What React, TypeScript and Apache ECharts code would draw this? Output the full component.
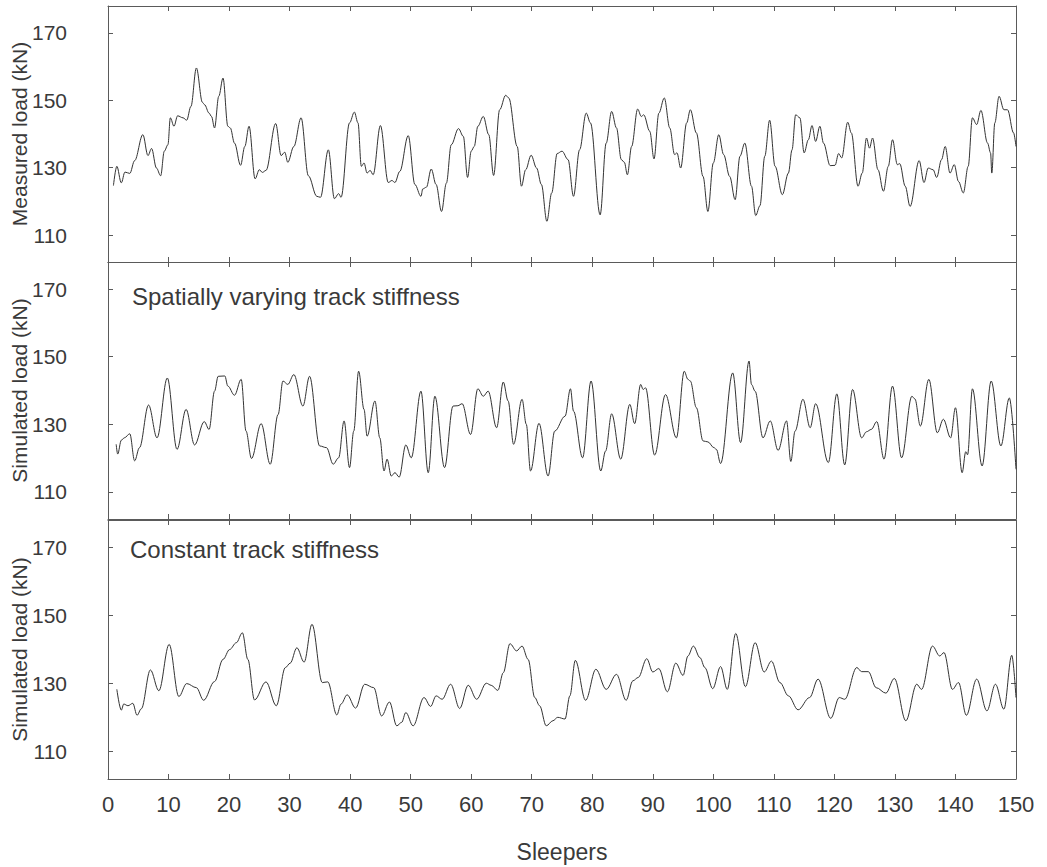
import React, { useEffect, useRef } from "react";
import * as echarts from "echarts";

const yTicks = [110, 130, 150, 170];
const yNames = ["Measured load (kN)", "Simulated load (kN)", "Simulated load (kN)"];
const panelNotes = ["", "Spatially varying track stiffness", "Constant track stiffness"];

const measured: [number, number][] = [
  [0.9,124.7],[1.46,130.4],[2.2,125.5],[2.8,128.7],[3.6,128.3],[4.4,132.1],[5.76,139.8],[6.6,133.6],[7.2,135.7],[8.0,129.9],[8.7,127.6],[9.3,134.9],[9.9,136.8],[10.3,144.8],[10.9,142.3],[11.5,145.4],[12.4,144.8],[13.0,144.1],[13.7,148.2],[14.6,159.6],[15.6,149.4],[15.95,148.7],[16.7,146.2],[17.1,145.2],[17.6,141.8],[18.3,151.2],[19.0,156.6],[19.8,142.3],[20.2,141.8],[20.9,137.3],[21.9,130.7],[22.6,136.3],[23.3,142.3],[24.3,126.7],[25.0,129.4],[25.5,128.6],[26.1,129.2],[27.7,143.1],[28.6,133.6],[29.2,134.6],[29.7,131.6],[30.7,136.3],[31.9,144.8],[33.1,127.6],[34.5,121.5],[35.1,121.2],[36.4,135.3],[37.4,120.8],[38.1,122.3],[38.5,121.2],[39.9,143.3],[40.7,146.5],[41.3,143.3],[41.85,130.4],[42.3,131.4],[42.8,128.4],[43.3,129.2],[43.8,127.9],[45.0,142.5],[46.3,125.6],[46.9,126.2],[47.4,125.6],[48.2,128.9],[49.6,139.5],[50.7,125.0],[51.7,121.5],[52.0,123.7],[52.6,124.2],[53.4,129.6],[54.2,125.0],[55.1,117.0],[55.9,125.4],[56.7,136.8],[57.9,141.6],[58.7,139.3],[59.4,127.1],[60.0,134.9],[60.5,136.3],[61.1,142.3],[62.0,145.2],[62.9,139.8],[63.7,127.7],[64.7,147.2],[65.7,151.5],[66.2,150.7],[67.6,136.3],[68.3,124.5],[69.0,129.4],[69.9,133.7],[70.8,129.9],[71.6,125.0],[72.5,114.1],[73.3,122.5],[74.2,134.2],[75.0,134.9],[76.0,132.4],[76.9,121.5],[77.9,135.3],[79.0,146.2],[79.7,143.3],[81.3,116.0],[82.3,137.3],[83.2,146.7],[84.0,141.8],[84.8,132.4],[85.3,131.6],[85.8,127.9],[86.5,136.3],[87.5,147.4],[88.1,145.2],[88.5,145.7],[89.5,140.8],[90.2,132.6],[91.0,146.2],[91.9,150.7],[92.8,141.8],[93.6,133.9],[94.0,134.4],[94.6,129.9],[95.6,143.3],[96.2,147.2],[97.2,140.3],[98.3,127.4],[99.1,117.0],[100.0,131.4],[100.9,139.8],[101.7,133.9],[102.7,127.4],[103.6,120.5],[104.4,133.4],[105.2,137.3],[106.3,124.5],[107.0,115.8],[107.7,118.7],[108.5,133.4],[109.3,144.1],[110.2,130.4],[111.4,122.0],[112.4,128.4],[113.0,135.3],[113.6,145.7],[114.3,144.8],[115.0,134.4],[115.7,138.3],[116.3,142.5],[116.9,137.8],[117.6,142.3],[118.2,137.3],[119.3,130.6],[120.1,130.7],[120.7,134.2],[121.2,132.9],[122.2,143.5],[122.8,140.3],[123.9,124.5],[124.6,128.4],[125.3,138.8],[125.8,135.8],[126.3,138.8],[127.2,129.4],[128.1,123.0],[128.9,130.4],[129.6,138.3],[130.4,130.9],[130.8,131.2],[131.7,124.5],[132.5,118.5],[134.0,132.1],[134.8,125.6],[135.5,129.9],[136.3,129.4],[136.9,127.1],[137.7,132.4],[138.3,136.3],[139.1,128.4],[139.8,130.9],[140.5,125.9],[141.3,122.5],[142.1,130.4],[142.8,144.8],[143.5,142.8],[144.2,147.0],[145.3,137.3],[145.8,134.4],[146.0,128.4],[146.5,143.3],[147.2,151.2],[148.0,147.2],[148.6,147.2],[149.6,140.3],[150,136.3]
];

const simVarying: [number, number][] = [
  [1.35,124.1],[1.6,121.2],[2.2,125.3],[2.7,126.0],[3.6,127.2],[4.4,119.2],[5.2,123.1],[6.7,135.7],[8.1,126.0],[9.8,143.7],[11.4,122.6],[12.9,134.4],[14.3,123.9],[15.9,130.8],[16.7,128.5],[17.6,139.8],[18.2,144.2],[19.3,144.3],[19.8,141.3],[20.9,138.6],[22.0,143.3],[22.8,128.0],[23.7,119.9],[25.3,130.2],[26.8,118.2],[28.1,132.9],[28.9,142.8],[29.7,141.8],[30.7,144.7],[32.2,135.4],[33.3,144.2],[34.96,123.6],[36.1,123.1],[37.2,118.2],[38.1,120.1],[39.0,131.0],[39.9,117.2],[40.6,128.0],[41.4,145.7],[42.3,134.4],[42.8,126.5],[44.1,136.9],[44.9,126.0],[45.6,116.2],[46.1,119.7],[46.8,114.7],[47.4,115.7],[48.1,114.4],[49.2,123.9],[50.1,120.1],[51.7,139.8],[52.9,115.7],[54.0,138.3],[55.6,117.2],[57.0,135.4],[57.8,135.5],[58.5,136.1],[59.9,127.0],[61.1,140.5],[62.0,138.3],[62.8,139.8],[64.2,129.0],[65.3,142.5],[66.1,136.9],[67.0,124.1],[68.4,137.4],[69.1,130.0],[69.8,116.2],[71.2,130.3],[72.7,114.7],[73.8,128.0],[75.5,132.4],[76.4,140.5],[76.9,133.9],[78.4,120.1],[79.8,142.8],[81.4,116.2],[82.2,122.1],[83.2,133.1],[84.7,119.7],[86.2,135.9],[87.0,130.2],[88.0,141.8],[88.4,140.3],[88.8,140.8],[90.3,120.9],[92.1,138.8],[93.9,126.0],[95.2,145.7],[95.8,143.3],[96.2,142.8],[97.2,134.9],[98.3,125.1],[99.1,124.8],[100.1,123.1],[100.5,122.6],[101.2,118.4],[103.2,145.2],[104.5,124.6],[105.9,148.7],[106.3,141.8],[106.9,139.8],[108.2,126.0],[109.4,131.0],[110.7,122.3],[112.1,131.0],[112.8,119.0],[113.5,128.0],[114.8,137.4],[116.0,129.0],[116.9,136.1],[119.0,118.7],[120.4,139.0],[121.7,118.0],[123.0,140.3],[124.5,126.0],[125.3,127.8],[126.1,128.5],[127.0,130.8],[128.2,119.7],[129.6,141.3],[131.1,120.1],[132.8,138.3],[133.3,137.5],[134.2,129.5],[135.6,143.3],[137.0,127.5],[138.0,131.5],[139.2,126.0],[140.0,134.9],[141.1,115.7],[141.7,121.9],[142.0,121.0],[142.8,140.5],[144.4,117.7],[145.9,142.8],[147.5,123.6],[148.9,137.8],[150.0,116.7]
];

const simConstant: [number, number][] = [
  [1.46,128.3],[2.2,122.2],[2.6,124.0],[3.3,123.5],[4.1,124.2],[4.8,120.7],[5.5,122.6],[7.0,134.0],[8.4,127.9],[10.1,141.5],[11.7,126.2],[13.0,130.0],[14.6,128.8],[15.8,125.1],[17.6,130.6],[19.0,137.1],[20.1,140.0],[21.2,142.0],[22.2,144.9],[23.1,137.1],[24.2,125.2],[26.1,130.5],[27.8,123.5],[29.3,134.7],[30.1,136.0],[31.2,140.5],[32.4,136.3],[33.7,147.4],[35.4,130.3],[36.3,130.5],[37.8,120.8],[38.5,124.0],[39.5,126.7],[40.9,122.8],[42.4,129.8],[43.9,128.8],[45.2,120.5],[46.5,124.6],[47.7,117.6],[48.5,118.6],[49.2,121.5],[50.4,117.6],[52.2,125.9],[53.3,123.3],[54.2,126.4],[55.2,125.4],[56.6,129.8],[58.1,122.7],[59.5,129.5],[60.9,125.4],[62.5,130.1],[63.3,129.5],[64.4,128.0],[65.3,133.2],[66.4,141.7],[67.5,139.6],[68.4,141.0],[69.4,137.1],[70.5,125.9],[71.3,123.5],[72.4,117.6],[73.5,119.1],[74.3,120.1],[75.5,119.6],[76.3,126.4],[77.2,136.8],[78.9,125.1],[80.6,134.2],[82.3,128.3],[84.0,132.7],[85.6,125.1],[86.7,130.8],[87.6,131.8],[89.0,137.3],[90.0,133.4],[91.0,134.4],[92.4,127.6],[93.8,136.0],[95.0,132.4],[95.8,138.1],[96.7,141.0],[97.8,137.6],[98.6,134.7],[99.9,128.5],[101.2,135.0],[102.3,128.3],[103.7,144.7],[105.3,129.1],[106.9,142.0],[108.4,133.4],[109.6,136.6],[111.0,130.3],[112.4,126.4],[114.0,122.3],[115.9,125.9],[117.3,131.3],[119.4,119.8],[120.8,125.9],[121.7,125.4],[123.7,134.7],[124.5,133.5],[125.6,133.5],[126.9,128.8],[128.5,127.2],[129.9,131.5],[131.8,119.1],[133.6,129.8],[134.4,128.3],[136.2,141.0],[137.4,138.1],[138.1,139.1],[139.5,128.3],[140.5,130.3],[141.8,120.7],[143.5,131.3],[145.2,122.0],[146.6,129.8],[148.0,122.5],[149.3,138.3],[150.0,125.9]
];

const seriesData = [measured, simVarying, simConstant];

const FONT = "'Liberation Sans', Arial, sans-serif";
const TEXT = "#3a3a3a";
const AXIS = "#5a5a5a";

export default function App() {
  const ref = useRef<HTMLDivElement>(null);
  useEffect(() => {
    document.body.style.margin = "0";
    if (!ref.current) return;
    const chart = echarts.init(ref.current, undefined, { renderer: "svg" });
    const grids = [
      { left: 108, right: 31, top: 6, height: 256, containLabel: false, outerBoundsMode: "none" },
      { left: 108, right: 31, top: 262, height: 257, containLabel: false, outerBoundsMode: "none" },
      { left: 108, right: 31, top: 520, height: 259, containLabel: false, outerBoundsMode: "none" },
    ];
    const xAxis: any[] = [];
    const yAxis: any[] = [];
    grids.forEach((_, i) => {
      const last = i === grids.length - 1;
      ["bottom", "top"].forEach((pos) => {
        xAxis.push({
          type: "value",
          gridIndex: i,
          position: pos,
          min: 0,
          max: 150,
          interval: 10,
          axisLine: { show: true, onZero: false, lineStyle: { color: AXIS, width: 1 } },
          axisTick: { show: true, inside: true, length: 5, lineStyle: { color: AXIS } },
          axisLabel: {
            show: last && pos === "bottom",
            margin: 14,
            fontSize: 22,
            color: TEXT,
            fontFamily: FONT,
          },
          splitLine: { show: false },
          name: last && pos === "bottom" ? "Sleepers" : "",
          nameLocation: "middle",
          nameGap: 61,
          nameMoveOverlap: false,
          nameTextStyle: { fontSize: 23, color: TEXT, fontFamily: FONT },
        });
      });
      ["left", "right"].forEach((pos) => {
        yAxis.push({
          type: "value",
          gridIndex: i,
          position: pos,
          min: 102,
          max: 178,
          axisLine: { show: true, onZero: false, lineStyle: { color: AXIS, width: 1 } },
          axisTick: { show: true, inside: true, length: 5, customValues: yTicks, lineStyle: { color: AXIS } },
          axisLabel: {
            show: pos === "left",
            customValues: yTicks,
            margin: 41,
            fontSize: 21,
            color: TEXT,
            fontFamily: FONT,
          },
          splitLine: { show: false },
          name: pos === "left" ? yNames[i] : "",
          nameLocation: "middle",
          nameGap: 78,
          nameMoveOverlap: false,
          nameTextStyle: { fontSize: 21, color: TEXT, fontFamily: FONT },
        });
      });
    });
    const series = seriesData.map((d, i) => ({
      type: "line",
      xAxisIndex: i * 2,
      yAxisIndex: i * 2,
      data: d,
      showSymbol: false,
      smooth: 0.35,
      smoothMonotone: "x",
      lineStyle: { color: "#333", width: 1 },
    }));
    const graphic = [
      { type: "text", left: 132, top: 284, style: { text: panelNotes[1], fontSize: 24, fill: TEXT, fontFamily: FONT } },
      { type: "text", left: 130, top: 537, style: { text: panelNotes[2], fontSize: 24, fill: TEXT, fontFamily: FONT } },
    ];
    chart.setOption({
      animation: false,
      backgroundColor: "#ffffff",
      grid: grids,
      xAxis,
      yAxis,
      series,
      graphic,
    });
    return () => chart.dispose();
  }, []);
  return <div ref={ref} style={{ width: 1047, height: 867 }} />;
}
